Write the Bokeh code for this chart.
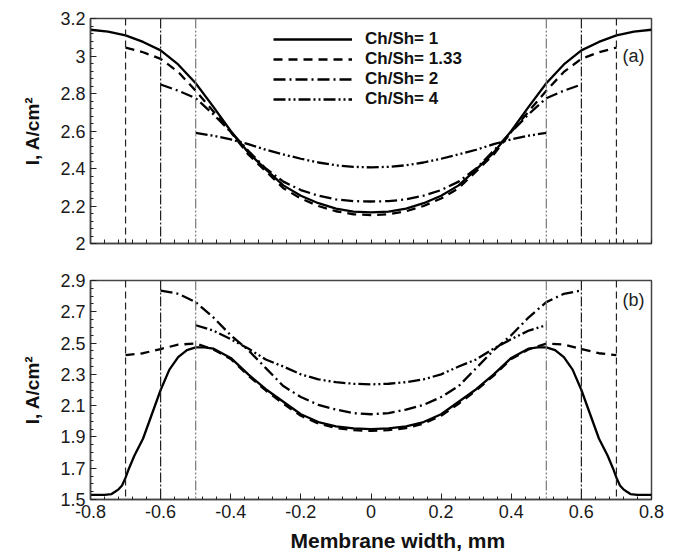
import numpy as np
from bokeh.plotting import figure
from bokeh.models import Range1d, FixedTicker, Span, Legend, LegendItem, Label, Title
from bokeh.layouts import column
from bokeh.embed import file_html
from bokeh.resources import INLINE

# ---------------- data ----------------
series_names = ["Ch/Sh= 1", "Ch/Sh= 1.33", "Ch/Sh= 2", "Ch/Sh= 4"]

# panel (a)
xa_1 = [-0.8, -0.75, -0.7, -0.65, -0.6, -0.55, -0.5, -0.45, -0.4, -0.35, -0.3, -0.25, -0.2, -0.15, -0.1, -0.05, 0.0,
        0.05, 0.1, 0.15, 0.2, 0.25, 0.3, 0.35, 0.4, 0.45, 0.5, 0.55, 0.6, 0.65, 0.7, 0.75, 0.8]
ya_1 = [3.14, 3.13, 3.11, 3.075, 3.03, 2.955, 2.855, 2.73, 2.60, 2.485, 2.395, 2.31, 2.255, 2.215, 2.186, 2.17, 2.166,
        2.17, 2.186, 2.215, 2.255, 2.31, 2.395, 2.485, 2.60, 2.73, 2.855, 2.955, 3.03, 3.075, 3.11, 3.13, 3.14]

xa_133 = [-0.7, -0.65, -0.6, -0.55, -0.5, -0.45, -0.4, -0.35, -0.3, -0.25, -0.2, -0.15, -0.1, -0.05, 0.0,
          0.05, 0.1, 0.15, 0.2, 0.25, 0.3, 0.35, 0.4, 0.45, 0.5, 0.55, 0.6, 0.65, 0.7]
ya_133 = [3.045, 3.02, 2.985, 2.915, 2.815, 2.705, 2.595, 2.475, 2.385, 2.295, 2.24, 2.20, 2.172, 2.156, 2.151,
          2.156, 2.172, 2.20, 2.24, 2.295, 2.385, 2.475, 2.595, 2.705, 2.815, 2.915, 2.985, 3.02, 3.045]

xa_2 = [-0.6, -0.55, -0.5, -0.45, -0.4, -0.35, -0.3, -0.25, -0.2, -0.15, -0.1, -0.05, 0.0,
        0.05, 0.1, 0.15, 0.2, 0.25, 0.3, 0.35, 0.4, 0.45, 0.5, 0.55, 0.6]
ya_2 = [2.848, 2.815, 2.775, 2.69, 2.595, 2.495, 2.40, 2.33, 2.285, 2.255, 2.235, 2.226, 2.224,
        2.226, 2.235, 2.255, 2.285, 2.33, 2.40, 2.495, 2.595, 2.69, 2.775, 2.815, 2.848]

xa_4 = [-0.5, -0.45, -0.4, -0.35, -0.3, -0.25, -0.2, -0.15, -0.1, -0.05, 0.0,
        0.05, 0.1, 0.15, 0.2, 0.25, 0.3, 0.35, 0.4, 0.45, 0.5]
ya_4 = [2.59, 2.575, 2.555, 2.53, 2.50, 2.475, 2.452, 2.432, 2.417, 2.409, 2.406,
        2.409, 2.417, 2.432, 2.452, 2.475, 2.50, 2.53, 2.555, 2.575, 2.59]

# panel (b)
xb_1 = [-0.8, -0.76, -0.74, -0.73, -0.72, -0.71, -0.7, -0.69, -0.675, -0.65, -0.625, -0.6, -0.575, -0.55, -0.525,
        -0.5, -0.475, -0.45, -0.4, -0.35, -0.3, -0.25, -0.2, -0.15, -0.1, -0.05, 0.0,
        0.05, 0.1, 0.15, 0.2, 0.25, 0.3, 0.35, 0.4, 0.45, 0.475, 0.5, 0.525, 0.55, 0.575, 0.6, 0.625, 0.65,
        0.675, 0.69, 0.7, 0.71, 0.72, 0.73, 0.74, 0.76, 0.8]
yb_1 = [1.53, 1.53, 1.535, 1.55, 1.565, 1.59, 1.64, 1.70, 1.78, 1.89, 2.045, 2.20, 2.33, 2.41, 2.455,
        2.472, 2.472, 2.465, 2.405, 2.30, 2.205, 2.125, 2.045, 1.995, 1.968, 1.955, 1.95,
        1.955, 1.968, 1.995, 2.045, 2.125, 2.205, 2.30, 2.405, 2.465, 2.472, 2.472, 2.455, 2.41, 2.33, 2.20, 2.045, 1.89,
        1.78, 1.70, 1.64, 1.59, 1.565, 1.55, 1.535, 1.53, 1.53]

xb_133 = [-0.7, -0.65, -0.6, -0.55, -0.5, -0.45, -0.4, -0.35, -0.3, -0.25, -0.2, -0.15, -0.1, -0.05, 0.0,
          0.05, 0.1, 0.15, 0.2, 0.25, 0.3, 0.35, 0.4, 0.45, 0.5, 0.55, 0.6, 0.65, 0.7]
yb_133 = [2.423, 2.435, 2.462, 2.49, 2.497, 2.46, 2.398, 2.292, 2.197, 2.112, 2.035, 1.985, 1.957, 1.943, 1.939,
          1.943, 1.957, 1.985, 2.035, 2.112, 2.197, 2.292, 2.398, 2.46, 2.497, 2.49, 2.462, 2.435, 2.423]

xb_2 = [-0.6, -0.55, -0.5, -0.45, -0.4, -0.35, -0.3, -0.25, -0.2, -0.15, -0.1, -0.05, 0.0,
        0.05, 0.1, 0.15, 0.2, 0.25, 0.3, 0.35, 0.4, 0.45, 0.5, 0.55, 0.6]
yb_2 = [2.836, 2.815, 2.762, 2.665, 2.55, 2.455, 2.34, 2.225, 2.155, 2.105, 2.075, 2.052, 2.045,
        2.052, 2.075, 2.105, 2.155, 2.225, 2.34, 2.455, 2.55, 2.665, 2.762, 2.815, 2.836]

xb_4 = [-0.5, -0.45, -0.4, -0.35, -0.3, -0.25, -0.2, -0.15, -0.1, -0.05, 0.0,
        0.05, 0.1, 0.15, 0.2, 0.25, 0.3, 0.35, 0.4, 0.45, 0.5]
yb_4 = [2.614, 2.58, 2.525, 2.465, 2.395, 2.35, 2.30, 2.268, 2.25, 2.24, 2.236,
        2.24, 2.25, 2.268, 2.30, 2.35, 2.395, 2.465, 2.525, 2.58, 2.614]

# channel/shoulder boundaries (vertical lines)
bound_133 = [-0.7, 0.7]
bound_2 = [-0.6, 0.6]
bound_4 = [-0.5, 0.5]

# ticks
x_ticks = [-0.8, -0.6, -0.4, -0.2, 0.0, 0.2, 0.4, 0.6, 0.8]
x_tick_labels = ["-0.8", "-0.6", "-0.4", "-0.2", "0", "0.2", "0.4", "0.6", "0.8"]
ya_ticks = [2.0, 2.2, 2.4, 2.6, 2.8, 3.0, 3.2]
ya_tick_labels = ["2", "2.2", "2.4", "2.6", "2.8", "3", "3.2"]
yb_ticks = [1.5, 1.7, 1.9, 2.1, 2.3, 2.5, 2.7, 2.9]
yb_tick_labels = ["1.5", "1.7", "1.9", "2.1", "2.3", "2.5", "2.7", "2.9"]

# ---------------- styling ----------------
FONT = "Liberation Sans"
DASHES = ["solid", "9 6", "12 4 2 4", "12 3 2 3 2 3"]
LW = 2.3
FRAME = "#444444"
x_minor = list(np.round(np.arange(-0.8, 0.8001, 0.04), 3))


def style_axis(ax):
    ax.axis_line_color = FRAME
    ax.axis_line_width = 1.5
    ax.major_tick_in = 6
    ax.major_tick_out = 0
    ax.minor_tick_in = 3
    ax.minor_tick_out = 0
    ax.major_tick_line_color = "#222222"
    ax.minor_tick_line_color = "#222222"
    ax.major_label_text_font = FONT
    ax.major_label_text_font_size = "18px"
    ax.major_label_text_color = "#1a1a1a"
    ax.major_label_standoff = 5


def make_fig(height, b_top, b_bottom, yr, yticks, ylabels, yminor, show_xlabels):
    p = figure(width=674, height=height, x_range=Range1d(-0.8, 0.8), y_range=Range1d(*yr),
               output_backend="svg", toolbar_location=None, title=None,
               min_border_left=90, min_border_right=23, min_border_top=b_top, min_border_bottom=b_bottom)
    p.grid.visible = False
    p.outline_line_color = FRAME
    p.outline_line_width = 1.5
    p.background_fill_color = "white"
    p.border_fill_color = "white"

    if show_xlabels:
        p.xaxis.ticker = FixedTicker(ticks=x_ticks, minor_ticks=x_minor)
        p.xaxis.major_label_overrides = {t: l for t, l in zip(x_ticks, x_tick_labels)}
    else:
        # tick marks only, no labels
        p.xaxis.ticker = FixedTicker(ticks=[], minor_ticks=x_minor)
    p.yaxis.ticker = FixedTicker(ticks=yticks, minor_ticks=yminor)
    p.yaxis.major_label_overrides = {t: l for t, l in zip(yticks, ylabels)}
    style_axis(p.xaxis[0])
    style_axis(p.yaxis[0])
    if not show_xlabels:
        p.xaxis.minor_tick_in = 4
    p.yaxis.axis_label = "I, A/cm²"
    p.yaxis.axis_label_text_font = FONT
    p.yaxis.axis_label_text_font_style = "bold"
    p.yaxis.axis_label_text_font_size = "19px"
    p.yaxis.axis_label_text_color = "#111111"
    p.yaxis.axis_label_standoff = 14
    return p


def add_bounds(p):
    for xs, dash, col in [(bound_133, "7 4", "#222222"), (bound_2, "10 2 2 2", "#222222"),
                          (bound_4, "10 2 2 2 2 2", "#777777")]:
        for x in xs:
            p.add_layout(Span(location=x, dimension="height", line_dash=dash,
                              line_color=col, line_width=1.2))


# ---------------- panel (a) ----------------
pa = make_fig(262, 18, 19, (2.0, 3.2), ya_ticks, ya_tick_labels,
              list(np.round(np.arange(2.0, 3.2001, 0.04), 3)), False)
add_bounds(pa)
renderers = []
for (xs, ys), dash in zip([(xa_1, ya_1), (xa_133, ya_133), (xa_2, ya_2), (xa_4, ya_4)], DASHES):
    r = pa.line(xs, ys, line_color="black", line_width=LW, line_dash=dash)
    renderers.append(r)

legend = Legend(items=[LegendItem(label=n, renderers=[r]) for n, r in zip(series_names, renderers)],
                location=(178, 129), padding=5, margin=0, spacing=0,
                glyph_width=79, glyph_height=20, label_height=20, label_standoff=13,
                label_text_font=FONT, label_text_font_style="bold", label_text_font_size="17px",
                label_text_color="#111111",
                background_fill_alpha=0, border_line_alpha=0)
pa.add_layout(legend)
pa.add_layout(Label(x=0.78, y=3.0, text="(a)", text_align="right", text_baseline="middle",
                    text_font=FONT, text_font_size="18px", text_color="#222222"))

# ---------------- panel (b) ----------------
pb = make_fig(296, 18, 58, (1.5, 2.9), yb_ticks, yb_tick_labels,
              list(np.round(np.arange(1.5, 2.9001, 0.05), 3)), True)
add_bounds(pb)
for (xs, ys), dash in zip([(xb_1, yb_1), (xb_133, yb_133), (xb_2, yb_2), (xb_4, yb_4)], DASHES):
    pb.line(xs, ys, line_color="black", line_width=LW, line_dash=dash)
pb.add_layout(Label(x=0.78, y=2.773, text="(b)", text_align="right", text_baseline="middle",
                    text_font=FONT, text_font_size="18px", text_color="#222222"))
pb.add_layout(Title(text="Membrane width, mm", align="left", offset=200, standoff=13,
                    text_font=FONT, text_font_style="bold", text_font_size="21px",
                    text_color="#111111"), "below")

layout = column(pa, pb, spacing=0)
open("out.html", "w").write(file_html(layout, INLINE))
